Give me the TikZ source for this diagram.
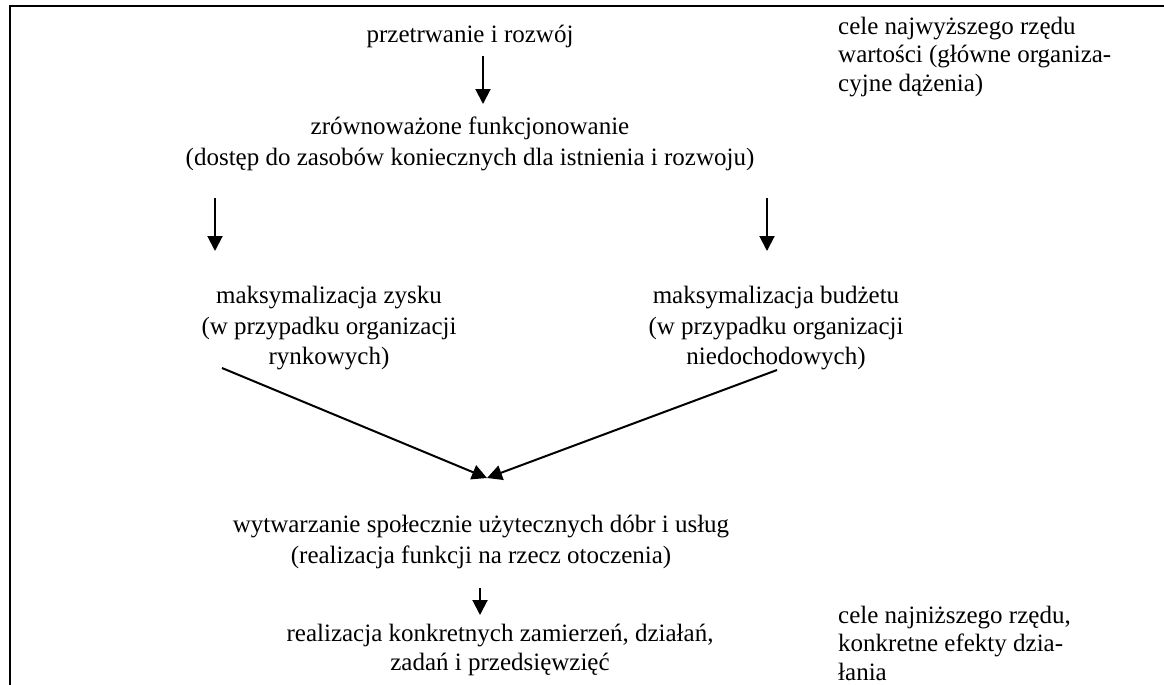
\documentclass[tikz,border=0pt]{standalone}
\usepackage{fontspec}
\setmainfont{Liberation Serif}
\usetikzlibrary{arrows.meta}
\begin{document}
\begin{tikzpicture}[x=1pt,y=-1pt,
  % multi-line nodes sit on the baseline of their last line
  txt/.style={font=\fontsize{25}{30.5}\selectfont, inner sep=0pt, align=center, anchor=base},
  note/.style={font=\fontsize{25}{28.5}\selectfont, inner sep=0pt, align=left, anchor=base west},
  arr/.style={line width=2pt, -{Triangle[length=15pt,width=15pt]}},
  frame/.style={line width=2.5pt}]
\useasboundingbox (0,0) rectangle (1164,685);
% open frame: top and left edges
\draw[frame] (1164,6) -- (10,6) -- (10,685);

% goal hierarchy
\node[txt] (n1) at (470,42.5) {przetrwanie i rozwój};
\node[txt, font=\fontsize{25}{31}\selectfont] (n2) at (470,165)
  {zrównoważone funkcjonowanie\\(dostęp do zasobów koniecznych dla istnienia i rozwoju)};
\node[txt] (n3) at (329,364.5) {maksymalizacja zysku\\(w przypadku organizacji\\rynkowych)};
\node[txt] (n4) at (776,364.5) {maksymalizacja budżetu\\(w przypadku organizacji\\niedochodowych)};
\node[txt, font=\fontsize{25}{31}\selectfont] (n5) at (481,563.5)
  {wytwarzanie społecznie użytecznych dóbr i usług\\(realizacja funkcji na rzecz otoczenia)};
\node[txt, font=\fontsize{25}{29}\selectfont] (n6) at (500,670.5)
  {realizacja konkretnych zamierzeń, działań,\\zadań i przedsięwzięć};

% side notes
\node[note] (c1) at (838,91.5) {cele najwyższego rzędu\\wartości (główne organiza-\\cyjne dążenia)};
\node[note] (c2) at (838,680) {cele najniższego rzędu,\\konkretne efekty dzia-\\łania};

% arrow end points
\coordinate (a1s) at (483,56);  \coordinate (a1e) at (483,104);
\coordinate (a2s) at (215,198); \coordinate (a2e) at (215,251);
\coordinate (a3s) at (767,198); \coordinate (a3e) at (767,251);
\coordinate (d1s) at (222,368); \coordinate (d2s) at (777,370);
\coordinate (m)   at (487,478);
\coordinate (a4s) at (480,588); \coordinate (a4e) at (480,615);

\draw[arr] (a1s) -- (a1e);
\draw[arr] (a2s) -- (a2e);
\draw[arr] (a3s) -- (a3e);
\draw[arr] (d1s) -- (m);
\draw[arr] (d2s) -- (m);
\draw[arr] (a4s) -- (a4e);
\end{tikzpicture}
\end{document}
